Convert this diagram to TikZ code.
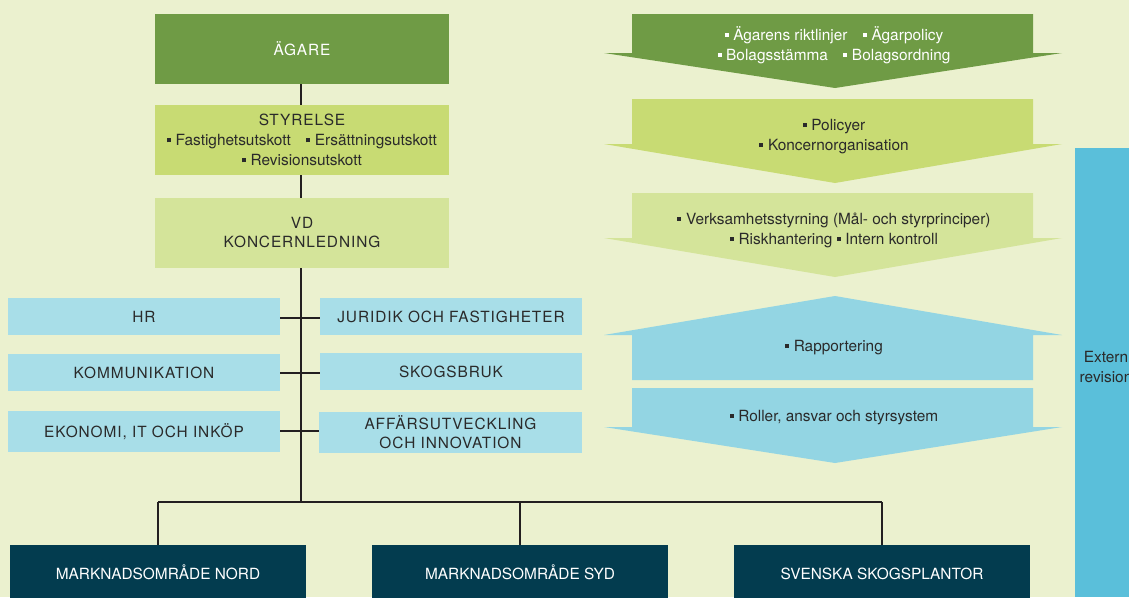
\documentclass[tikz,border=0pt]{standalone}
\usepackage{fontspec}
\setmainfont{TeX Gyre Heros}
\newfontfamily\capsfont[LetterSpace=6]{TeX Gyre Heros}
\definecolor{bg}{HTML}{EBF1CF}
\definecolor{dgreen}{HTML}{6F9B45}
\definecolor{mgreen}{HTML}{C8DB73}
\definecolor{lgreen}{HTML}{D4E49A}
\definecolor{lblue}{HTML}{A8DEE8}
\definecolor{ablue}{HTML}{93D5E3}
\definecolor{barblue}{HTML}{5ABFDA}
\definecolor{teal}{HTML}{033C4F}
\definecolor{txt}{HTML}{2A2A2A}
\definecolor{lin}{HTML}{231F20}
\newcommand{\bul}{\rule[0.22em]{0.26em}{0.26em}\hspace{0.3em}}
\begin{document}
\begin{tikzpicture}[x=1pt,y=-1pt,
  every node/.style={inner sep=0pt, outer sep=0pt},
  box/.style={rectangle, align=center, text=txt, font=\fontsize{15.4}{20}\selectfont},
  title/.style={box, font=\fontsize{15.4}{19}\selectfont\capsfont},
  orgbox/.style={title, fill=lblue, minimum width=#1, text height=12.5, text depth=0},
  unit/.style={box, fill=teal, text=white, minimum width=296, minimum height=56, text height=12.5, text depth=0},
  arrowtxt/.style={box},
  conn/.style={draw=lin, line width=1.2pt}
]
\useasboundingbox (0,0) rectangle (1129,597);
\begin{scope}
\clip (0,0) rectangle (1129,597);
\fill[bg] (0,0) rectangle (1129,597);

% left column
\node[title, fill=dgreen, text=white, minimum width=294, minimum height=70] (agare) at (302,49) {ÄGARE};
\node[box, fill=mgreen, minimum width=294, minimum height=70] (styrelse) at (302,140)
  {{\capsfont STYRELSE}\\ \bul Fastighetsutskott\quad\bul Ersättningsutskott\\ \bul Revisionsutskott};
\node[title, fill=lgreen, minimum width=294, minimum height=70] (vd) at (302,233) {VD\\KONCERNLEDNING};

\node[orgbox=272, minimum height=37] (hr) at (144,316.5) {HR};
\node[orgbox=262, minimum height=37] (jur) at (451,316.5) {JURIDIK OCH FASTIGHETER};
\node[orgbox=272, minimum height=37] (kom) at (144,372.5) {KOMMUNIKATION};
\node[orgbox=262, minimum height=37] (skog) at (451,371.5) {SKOGSBRUK};
\node[orgbox=272, minimum height=41] (eko) at (144,431.5) {EKONOMI, IT OCH INKÖP};
\node[title, fill=lblue, minimum width=263, minimum height=41] (aff) at (450.5,432.5) {AFFÄRSUTVECKLING\\OCH INNOVATION};

\node[unit] (nord) at (158,573) {MARKNADSOMRÅDE NORD};
\node[unit] (syd) at (520,573) {MARKNADSOMRÅDE SYD};
\node[unit] (plant) at (882,573) {SVENSKA SKOGSPLANTOR};

\coordinate (bus) at (301,502);
\draw[conn] (agare.south -| bus) -- (styrelse.north -| bus);
\draw[conn] (styrelse.south -| bus) -- (vd.north -| bus);
\draw[conn] (vd.south -| bus) -- (bus);
\draw[conn] (hr.east |- 0,318) -- (jur.west |- 0,318);
\draw[conn] (kom.east |- 0,373) -- (skog.west |- 0,373);
\draw[conn] (eko.east |- 0,431) -- (aff.west |- 0,431);
\draw[conn] (nord.north |- bus) -- (plant.north |- bus);
\draw[conn] (nord.north |- bus) -- (nord.north);
\draw[conn] (syd.north |- bus) -- (syd.north);
\draw[conn] (plant.north |- bus) -- (plant.north);

% right arrows
\fill[dgreen] (632,14) -- (1033,14) -- (1033,53) -- (1062,53) -- (835,88) -- (604,53) -- (632,53) -- cycle;
\node[arrowtxt, text=white] (a1) at (834,45) {\bul Ägarens riktlinjer\quad\bul Ägarpolicy\\ \bul Bolagsstämma\quad\bul Bolagsordning};
\fill[mgreen] (632,99) -- (1033,99) -- (1033,144) -- (1062,144) -- (835,183) -- (604,144) -- (632,144) -- cycle;
\node[arrowtxt] (a2) at (834,136.5) {\bul Policyer\\ \bul Koncernorganisation};
\fill[lgreen] (632,193) -- (1033,193) -- (1033,238) -- (1062,238) -- (835,277) -- (604,238) -- (632,238) -- cycle;
\node[arrowtxt] (a3) at (834,230) {\bul Verksamhetsstyrning (Mål- och styrprinciper)\\ \bul Riskhantering \bul Intern kontroll};
\fill[ablue] (835,296) -- (1062,335) -- (1033,335) -- (1033,380) -- (632,380) -- (632,335) -- (604,335) -- cycle;
\node[arrowtxt] (a4) at (834,347.5) {\bul Rapportering};
\fill[ablue] (632,388) -- (1033,388) -- (1033,427) -- (1062,427) -- (835,463) -- (604,427) -- (632,427) -- cycle;
\node[arrowtxt] (a5) at (834,417.5) {\bul Roller, ansvar och styrsystem};

% external audit bar
\fill[barblue] (1075,148) rectangle (1140,597);
\node[box] (ext) at (1106,367) {Extern\\revision};
\end{scope}
\end{tikzpicture}
\end{document}
